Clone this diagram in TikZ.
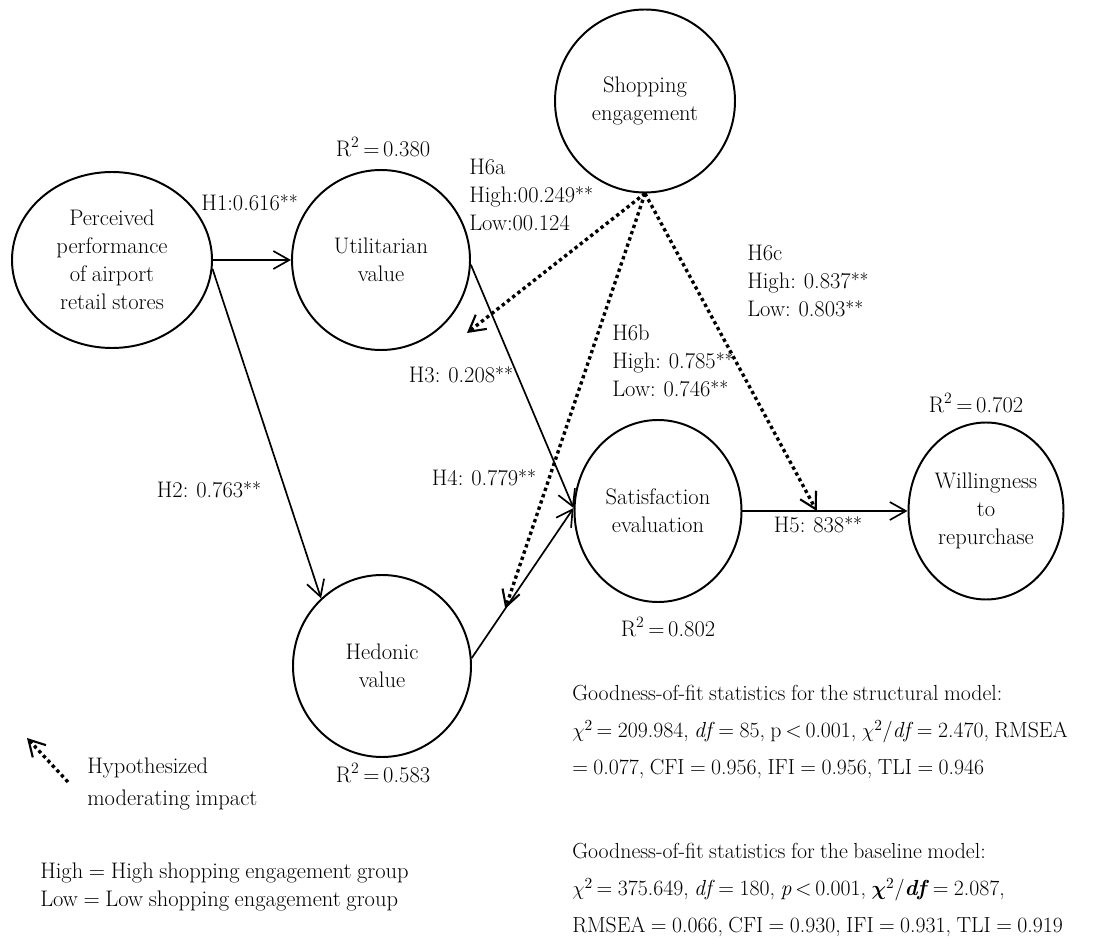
\documentclass[tikz,border=0pt]{standalone}
\usepackage{amsmath,amssymb}
\usepackage{tikz}
\usetikzlibrary{arrows.meta,shapes.geometric}
\newcommand{\sg}{\raisebox{.2ex}{\fontsize{13}{13}\selectfont**}}
\newcommand{\narrowsp}{\spaceskip=0.25em plus 0.1em minus 0.05em\relax}
\newcommand{\diagfont}{\fontsize{16}{20}\selectfont\narrowsp}
\newcommand{\keyfont}{\fontsize{16}{23}\selectfont\narrowsp}
\newcommand{\fitfont}{\fontsize{15.5}{26}\selectfont\narrowsp}

\begin{document}
\begin{tikzpicture}[
  font=\diagfont,
  latent/.style={draw,ellipse,line width=1.4pt,inner sep=0pt,align=center},
  path/.style={line width=1.2pt,-{Straight Barb[length=4mm,width=4.5mm,line width=1.2pt]}},
  moderate/.style={line width=2.4pt,dash pattern=on 2.4pt off 2.3pt,-{Straight Barb[length=4mm,width=4.5mm,line width=1.5pt]}},
  lbl/.style={inner sep=0pt,align=left},
  fit/.style={inner sep=0pt,align=left,font=\fitfont}
]
\useasboundingbox (0,0) rectangle (27.5,-23.65);
\node[latent,minimum width=5cm,minimum height=4.4cm] (pp) at (2.8,-6.5) {Perceived\\performance\\of airport\\retail stores};
\node[latent,minimum width=4.45cm,minimum height=4.5cm] (uv) at (9.525,-6.5) {Utilitarian\\value};
\node[latent,minimum width=4.5cm,minimum height=4.575cm] (se) at (16.125,-2.525) {Shopping\\engagement};
\node[latent,minimum width=4.45cm,minimum height=4.55cm] (hv) at (9.55,-16.65) {Hedonic\\value};
\node[latent,minimum width=4.175cm,minimum height=4.55cm] (sat) at (16.45,-12.775) {Satisfaction\\evaluation};
\node[latent,minimum width=3.875cm,minimum height=4.425cm] (wr) at (24.65,-12.775) {Willingness\\to\\repurchase};

\draw[path] (pp.east) -- (uv.west);
\draw[path] (pp.-5) -- (hv.132);
\draw[path] (uv.-3) -- (sat.178);
\draw[path] (hv.5) -- (sat.178);
\draw[path] (sat.east) -- (wr.west);

\path (hv.5) -- coordinate[pos=0.33] (h4mid) (sat.178);
\path (sat.east) -- coordinate[pos=0.45] (h5mid) (wr.west);
\coordinate (h6atip) at (11.675,-8.325);
\draw[moderate] (se.south) -- (h6atip);
\draw[moderate] (se.south) -- (h4mid);
\draw[moderate] (se.south) -- (h5mid);

\node[lbl] (h1) at (6.24,-5.08) {H1:0.616\sg};
\node[lbl] (h2) at (5.225,-12.25) {H2: 0.763\sg};
\node[lbl] (h3) at (11.525,-9.375) {H3: 0.208\sg};
\node[lbl] (h4) at (12.1,-11.95) {H4: 0.779\sg};
\node[lbl] (h5) at (20.45,-13.125) {H5: 838\sg};
\node[lbl,anchor=west] (h6a) at (11.725,-4.875) {H6a\\High:00.249\sg\\Low:00.124};
\node[lbl,anchor=west] (h6b) at (15.3,-9.025) {H6b\\High: 0.785\sg\\Low: 0.746\sg};
\node[lbl,anchor=west] (h6c) at (18.675,-7.025) {H6c\\High: 0.837\sg\\Low: 0.803\sg};

\node[lbl] (r2uv) at (9.575,-3.675) {R\textsuperscript{2}\,=\,0.380};
\node[lbl] (r2hv) at (9.575,-19.325) {R\textsuperscript{2}\,=\,0.583};
\node[lbl] (r2sat) at (16.7,-15.675) {R\textsuperscript{2}\,=\,0.802};
\node[lbl] (r2wr) at (24.4,-10.075) {R\textsuperscript{2}\,=\,0.702};

\coordinate (keytail) at (1.7,-19.55);
\coordinate (keyhead) at (0.675,-18.45);
\draw[moderate] (keytail) -- (keyhead);
\node[lbl,anchor=west,font=\keyfont] (key) at (2.175,-19.6) {Hypothesized\\moderating impact};
\node[lbl,anchor=west] (groups) at (1.0,-22.175) {High = High shopping engagement group\\Low = Low shopping engagement group};

\node[fit,anchor=west] (fitsm) at (14.3,-18.3) {Goodness-of-fit statistics for the structural model:\\
$\chi^2$\,= 209.984, \textit{df}\,= 85, p\,<\,0.001, $\chi^2$/\textit{df}\,= 2.470, RMSEA\\
= 0.077, CFI = 0.956, IFI = 0.956, TLI = 0.946};
\node[fit,anchor=west] (fitbm) at (14.3,-22.25) {Goodness-of-fit statistics for the baseline model:\\
$\chi^2$\,= 375.649, \textit{df}\,= 180, \textit{p}\,<\,0.001, $\boldsymbol{\chi}^2$/\textbf{\textit{df}}\,= 2.087,\\
RMSEA = 0.066, CFI = 0.930, IFI = 0.931, TLI = 0.919};
\end{tikzpicture}
\end{document}
